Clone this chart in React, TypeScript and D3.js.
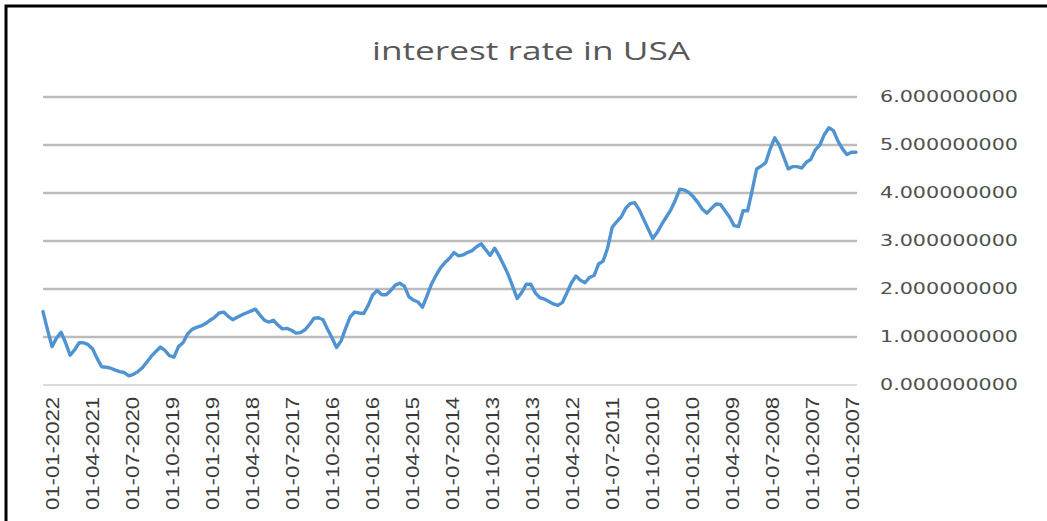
import React from "react";
import * as d3 from "d3";

const TITLE = "interest rate in USA";

const dateLabels = [
  "01-01-2022", "01-04-2021", "01-07-2020", "01-10-2019", "01-01-2019",
  "01-04-2018", "01-07-2017", "01-10-2016", "01-01-2016", "01-04-2015",
  "01-07-2014", "01-10-2013", "01-01-2013", "01-04-2012", "01-07-2011",
  "01-10-2010", "01-01-2010", "01-04-2009", "01-07-2008", "01-10-2007",
  "01-01-2007",
];

const yTicks = [0, 1, 2, 3, 4, 5, 6];

// monthly values, newest (Jan 2022) first, oldest (Jan 2007) last
const rates = [
  1.53, 1.15, 0.80, 0.98, 1.10, 0.88, 0.62, 0.73, 0.88, 0.88,
  0.84, 0.75, 0.55, 0.38, 0.37, 0.35, 0.31, 0.28, 0.26, 0.19,
  0.22, 0.28, 0.36, 0.48, 0.60, 0.70, 0.79, 0.72, 0.61, 0.58,
  0.80, 0.88, 1.06, 1.16, 1.20, 1.23, 1.28, 1.35, 1.41, 1.50,
  1.52, 1.43, 1.36, 1.41, 1.46, 1.50, 1.54, 1.58, 1.46, 1.35,
  1.31, 1.35, 1.25, 1.17, 1.18, 1.14, 1.08, 1.09, 1.15, 1.26,
  1.39, 1.40, 1.36, 1.16, 0.98, 0.78, 0.92, 1.18, 1.42, 1.52,
  1.50, 1.49, 1.66, 1.88, 1.97, 1.88, 1.88, 1.97, 2.08, 2.12,
  2.06, 1.84, 1.77, 1.73, 1.62, 1.85, 2.10, 2.28, 2.44, 2.55,
  2.64, 2.76, 2.69, 2.71, 2.76, 2.80, 2.88, 2.94, 2.82, 2.70,
  2.85, 2.69, 2.50, 2.30, 2.05, 1.80, 1.93, 2.10, 2.10, 1.92,
  1.82, 1.79, 1.74, 1.69, 1.66, 1.72, 1.92, 2.13, 2.27, 2.18,
  2.13, 2.24, 2.28, 2.52, 2.58, 2.85, 3.28, 3.40, 3.50, 3.68,
  3.78, 3.80, 3.65, 3.45, 3.25, 3.05, 3.18, 3.35, 3.50, 3.65,
  3.85, 4.08, 4.06, 4.01, 3.92, 3.80, 3.66, 3.58, 3.68, 3.77,
  3.76, 3.63, 3.50, 3.32, 3.30, 3.63, 3.63, 4.05, 4.50, 4.56,
  4.63, 4.92, 5.15, 5.00, 4.75, 4.50, 4.55, 4.55, 4.52, 4.64,
  4.70, 4.90, 5.00, 5.22, 5.36, 5.30, 5.08, 4.92, 4.80, 4.85,
  4.85,
];

const W = 1047;
const H = 521;
const plotLeft = 43;
const plotRight = 857;

export default function App() {
  const x = d3
    .scaleLinear()
    .domain([0, rates.length - 1])
    .range([plotLeft, plotRight - 1]);
  const y = d3.scaleLinear().domain([0, 6]).range([385, 97]);
  const xl = d3.scalePoint<string>().domain(dateLabels).range([53, 853]);

  const line = d3
    .line<number>()
    .x((_, i) => x(i))
    .y((d) => y(d))
    .curve(d3.curveLinear);

  const fmt = (v: number) => v.toFixed(9);

  return (
    <svg
      width={W}
      height={H}
      style={{ position: "absolute", left: 0, top: 0, background: "#fff" }}
    >
      <rect x={0} y={0} width={W} height={H} fill="#ffffff" />
      <rect
        x={6}
        y={6}
        width={W + 20}
        height={H + 20}
        fill="none"
        stroke="#000"
        strokeWidth={3}
      />
      <text
        x={531}
        y={60}
        textAnchor="middle"
        fontFamily="'Open Sans', 'Noto Sans', sans-serif"
        fontSize={26}
        fill="#595959"
        textLength={318}
        lengthAdjust="spacingAndGlyphs"
      >
        {TITLE}
      </text>
      {yTicks.map((t) => (
        <g key={t}>
          <line
            x1={plotLeft}
            x2={plotRight}
            y1={y(t)}
            y2={y(t)}
            stroke={t === 0 ? "#d0d0d0" : "#bcbcbc"}
            strokeWidth={t === 0 ? 1.5 : 2.5}
          />
          <text
            x={880}
            y={y(t)}
            dy="0.36em"
            fontFamily="'DejaVu Sans', sans-serif"
            fontSize={15}
            fill="#505050"
            textLength={138}
            lengthAdjust="spacingAndGlyphs"
          >
            {fmt(t)}
          </text>
        </g>
      ))}
      <path
        d={line(rates) || ""}
        fill="none"
        stroke="#4f93d2"
        strokeWidth={3.4}
        strokeLinejoin="round"
        strokeLinecap="round"
      />
      {dateLabels.map((lab) => (
        <text
          key={lab}
          transform={`translate(${xl(lab)},397) rotate(-90)`}
          textAnchor="end"
          dy="0.36em"
          fontFamily="'Liberation Sans', Arial, sans-serif"
          fontSize={18}
          fill="#3a3a3a"
          textLength={113}
          lengthAdjust="spacingAndGlyphs"
        >
          {lab}
        </text>
      ))}
    </svg>
  );
}
